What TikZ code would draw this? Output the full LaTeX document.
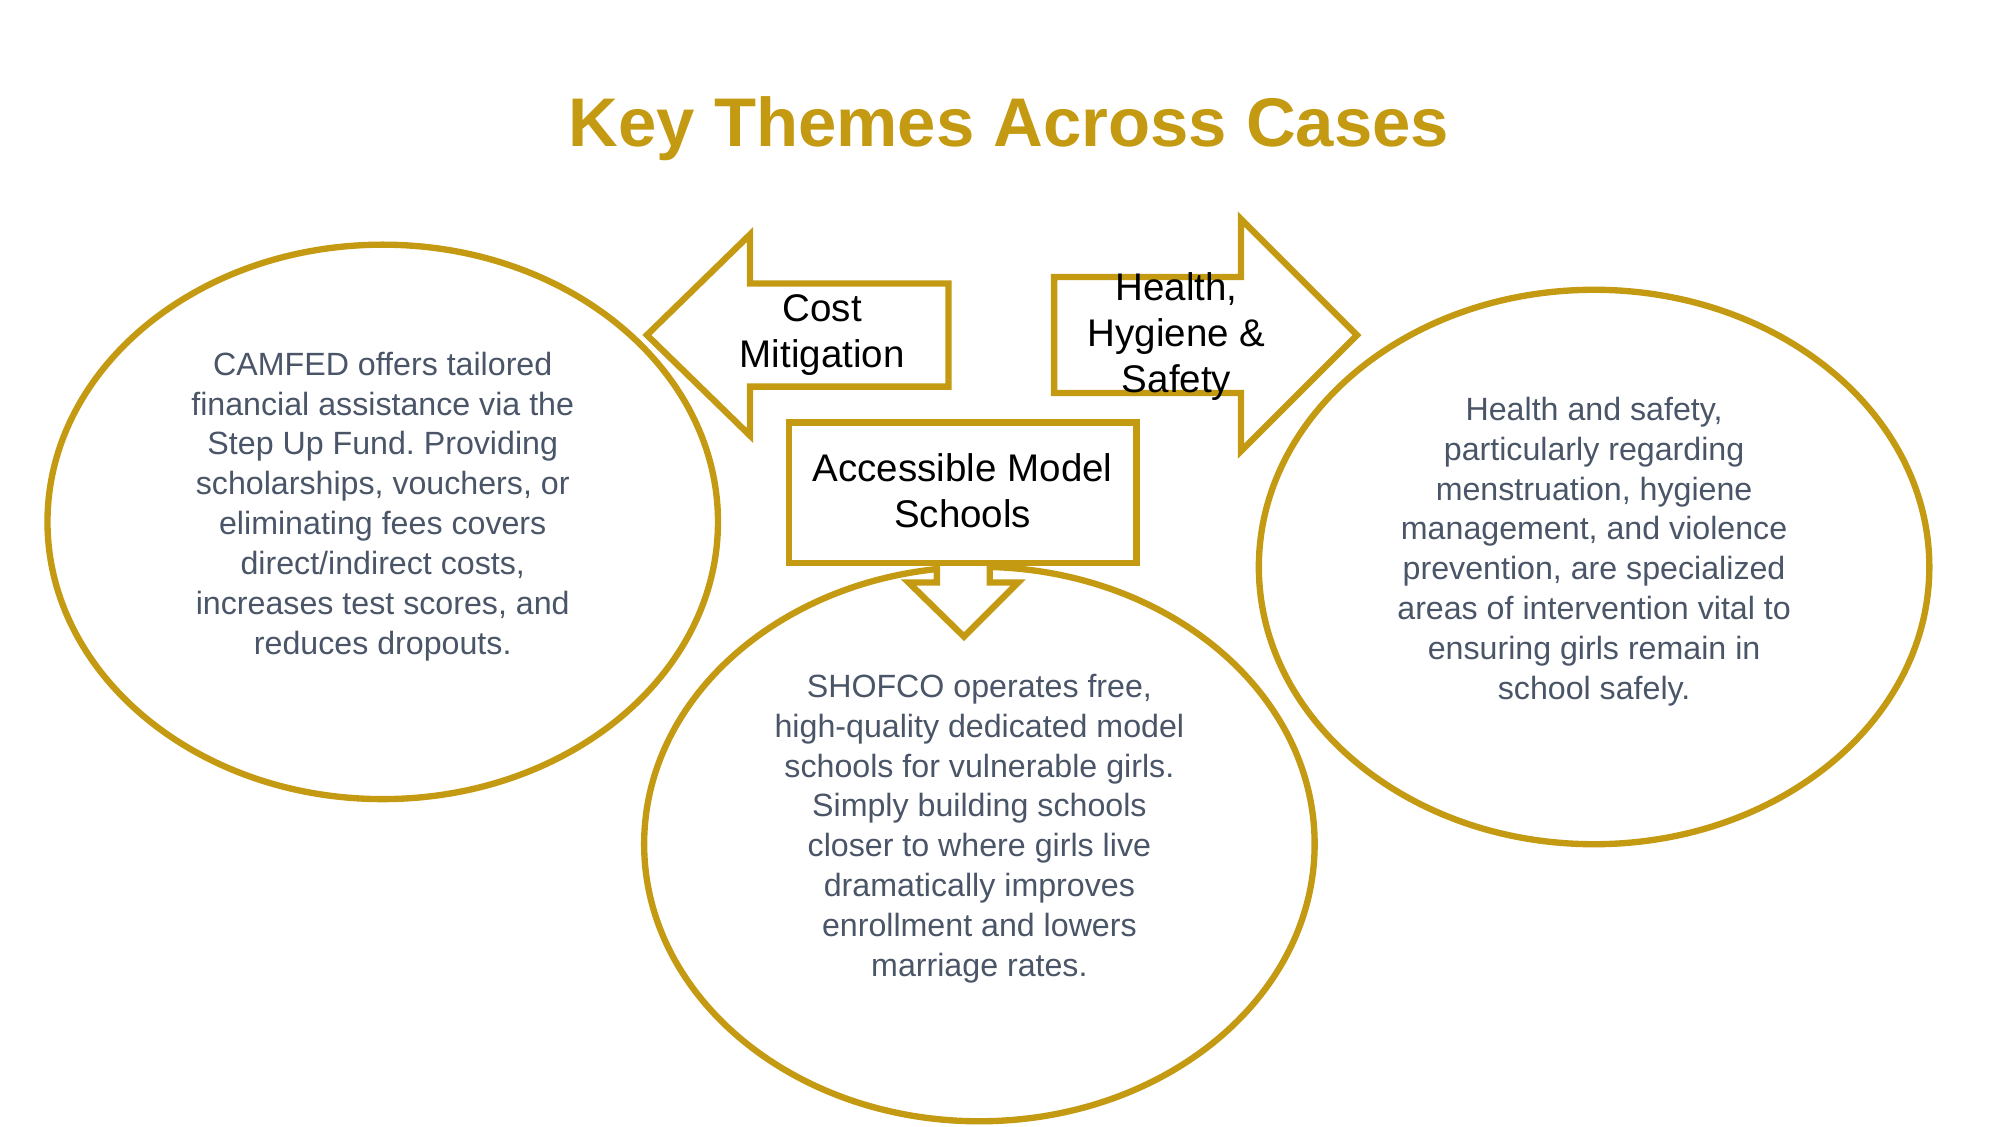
\documentclass[tikz,border=0pt]{standalone}
\usepackage{fontspec}
\setmainfont{Liberation Sans}
\usetikzlibrary{shapes.geometric}
\definecolor{gold}{HTML}{C49A12}
\definecolor{body}{HTML}{4A5568}
\frenchspacing
\begin{document}
\begin{tikzpicture}[x=0.01cm,y=-0.01cm,
  oval/.style={draw=gold,line width=1.4pt,ellipse,minimum width=5.2cm,minimum height=4.3cm},
  shp/.style={draw=gold,line width=1.4pt,fill=white,line join=miter},
  txt/.style={align=center,text=body,font=\fontsize{7.1}{8.8}\selectfont},
  lab/.style={align=center,text=black,font=\fontsize{8.5}{10.2}\selectfont}]
\useasboundingbox (0,0) rectangle (1552,874);
\node (title) at (783,100) {\fontsize{15.2}{18}\selectfont\bfseries\color{gold}Key Themes Across Cases};
\node[oval] (L) at (297,405) {};
\node[oval] (R) at (1237,440) {};
\node[oval] (B) at (760,655) {};
\draw[shp] (502,260) -- (582,182) -- (582,220) -- (736,220) -- (736,300) -- (582,300) -- (582,338) -- cycle;
\node[lab] (cost) at (638,260) {Cost\\Mitigation};
\draw[shp] (818,215) -- (963,215) -- (963,170) -- (1053,260) -- (963,350) -- (963,305) -- (818,305) -- cycle;
\node[lab] (health) at (913,261) {Health,\\Hygiene \&\\Safety};
\draw[shp] (727,437) -- (727,452) -- (705,452) -- (748,494) -- (790,452) -- (768,452) -- (768,437);
\draw[shp] (612,328) rectangle (882,437);
\node[lab] (acc) at (747,381) {Accessible Model\\Schools};
\node[txt] (lt) at (297,393) {CAMFED offers tailored\\financial assistance via the\\Step Up Fund. Providing\\scholarships, vouchers, or\\eliminating fees covers\\direct/indirect costs,\\increases test scores, and\\reduces dropouts.};
\node[txt] (rt) at (1237,428) {Health and safety,\\particularly regarding\\menstruation, hygiene\\management, and violence\\prevention, are specialized\\areas of intervention vital to\\ensuring girls remain in\\school safely.};
\node[txt] (bt) at (760,643) {SHOFCO operates free,\\high-quality dedicated model\\schools for vulnerable girls.\\Simply building schools\\closer to where girls live\\dramatically improves\\enrollment and lowers\\marriage rates.};
\end{tikzpicture}
\end{document}
